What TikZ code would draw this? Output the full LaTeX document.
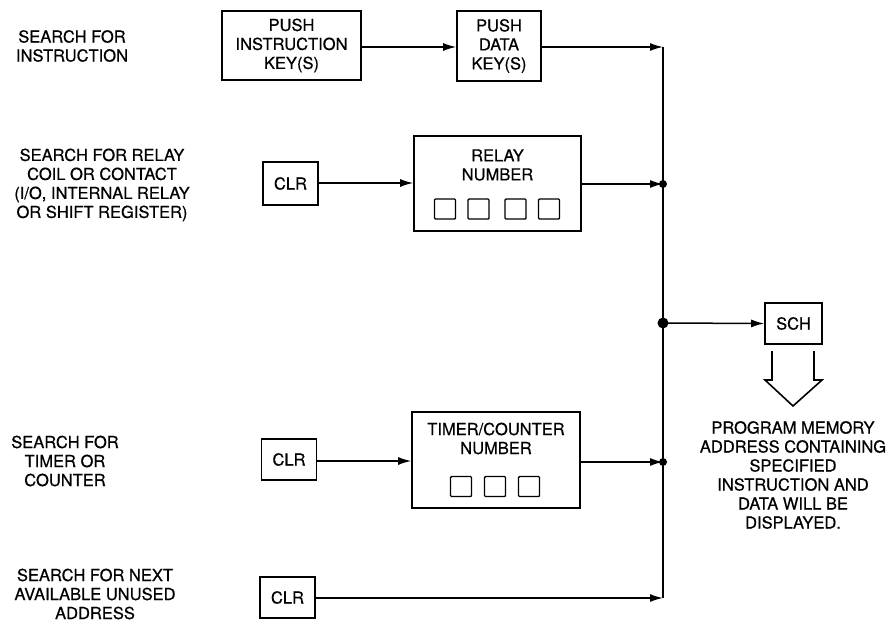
\documentclass[tikz,border=0pt]{standalone}
\usepackage{fontspec}
\setmainfont{TeX Gyre Heros}[FakeBold=0.6]
\usetikzlibrary{arrows.meta}
\begin{document}
\begin{tikzpicture}[x=1pt,y=-1pt,
  txt/.style={font=\fontsize{16.5}{19}\selectfont, align=center, inner sep=0pt},
  box/.style={draw, line width=1.6pt, inner sep=0pt, font=\fontsize{16.5}{19}\selectfont, align=center},
  conn/.style={line width=1.5pt, -{Latex[length=13pt,width=8pt]}},
  wire/.style={line width=1.5pt},
  dotj/.style={circle, fill, inner sep=0pt, minimum size=8pt},
  sq/.style={draw, line width=1.4pt, rounded corners=1pt, minimum width=21pt, minimum height=20pt, inner sep=0pt}
]
\useasboundingbox (0,0) rectangle (896,621);

% left labels
\node[txt] (l1) at (72,46) {SEARCH FOR\\INSTRUCTION};
\node[txt] (l2) at (102,185) {SEARCH FOR RELAY\\COIL OR CONTACT\\(I/O, INTERNAL RELAY\\OR SHIFT REGISTER)};
\node[txt] (l3) at (65,461) {SEARCH FOR\\TIMER OR\\COUNTER};
\node[txt] (l4) at (95,594) {SEARCH FOR NEXT\\AVAILABLE UNUSED\\ADDRESS};

% boxes
\node[box, minimum width=139pt, minimum height=69pt] (pi) at (291.5,45.5) {PUSH\\INSTRUCTION\\KEY(S)};
\node[box, minimum width=84pt, minimum height=70pt] (pd) at (499,46) {PUSH\\DATA\\KEY(S)};
\node[box, minimum width=55pt, minimum height=43pt] (c1) at (290.5,183.5) {CLR};
\node[box, minimum width=167pt, minimum height=95pt] (rn) at (497.5,183.5) {};
\node[txt] (rnt) at (497.5,165) {RELAY\\NUMBER};
\node[sq] (r1) at (445,209) {};
\node[sq] (r2) at (478.5,209) {};
\node[sq] (r3) at (515.5,209) {};
\node[sq] (r4) at (549,209) {};
\node[box, minimum width=55pt, minimum height=41pt] (c2) at (289,459.5) {CLR};
\node[box, minimum width=168pt, minimum height=96pt] (tn) at (496,460) {};
\node[txt] (tnt) at (496,438.5) {TIMER/COUNTER\\NUMBER};
\node[sq] (t1) at (461,486.5) {};
\node[sq] (t2) at (495,486.5) {};
\node[sq] (t3) at (529,486.5) {};
\node[box, minimum width=55pt, minimum height=41pt] (c3) at (287.5,597.5) {CLR};
\node[box, minimum width=57pt, minimum height=41pt] (sch) at (793.5,323.5) {SCH};

% bus
\coordinate (btop) at (663,47);
\coordinate (bbot) at (663,598);
\node[dotj] (j1) at (663,184) {};
\node[dotj, minimum size=11pt] (j2) at (663,323) {};
\node[dotj] (j3) at (663,462) {};
\draw[wire] (btop) -- (bbot);

% connectors
\draw[conn] (pi.east |- 0,47) -- (pd.west |- 0,47);
\draw[conn] (pd.east |- btop) -- (btop);
\draw[conn] (c1.east |- 0,183) -- (rn.west |- 0,183);
\draw[conn] (rn.east |- j1) -- (j1.center);
\draw[conn] (c2.east |- 0,461) -- (tn.west |- 0,461);
\draw[conn] (tn.east |- j3) -- (j3.center);
\draw[conn] (c3.east |- bbot) -- (bbot);
\draw[conn] (j2.center) -- (sch.west);

% hollow arrow
\draw[line width=1.6pt, line join=miter] (772,351) -- (772,380) -- (765,380) -- (793,406) -- (822,380) -- (814,380) -- (814,351);

% result text
\node[txt] (res) at (793,475) {PROGRAM MEMORY\\ADDRESS CONTAINING\\SPECIFIED\\INSTRUCTION AND\\DATA WILL BE\\DISPLAYED.};
\end{tikzpicture}
\end{document}
